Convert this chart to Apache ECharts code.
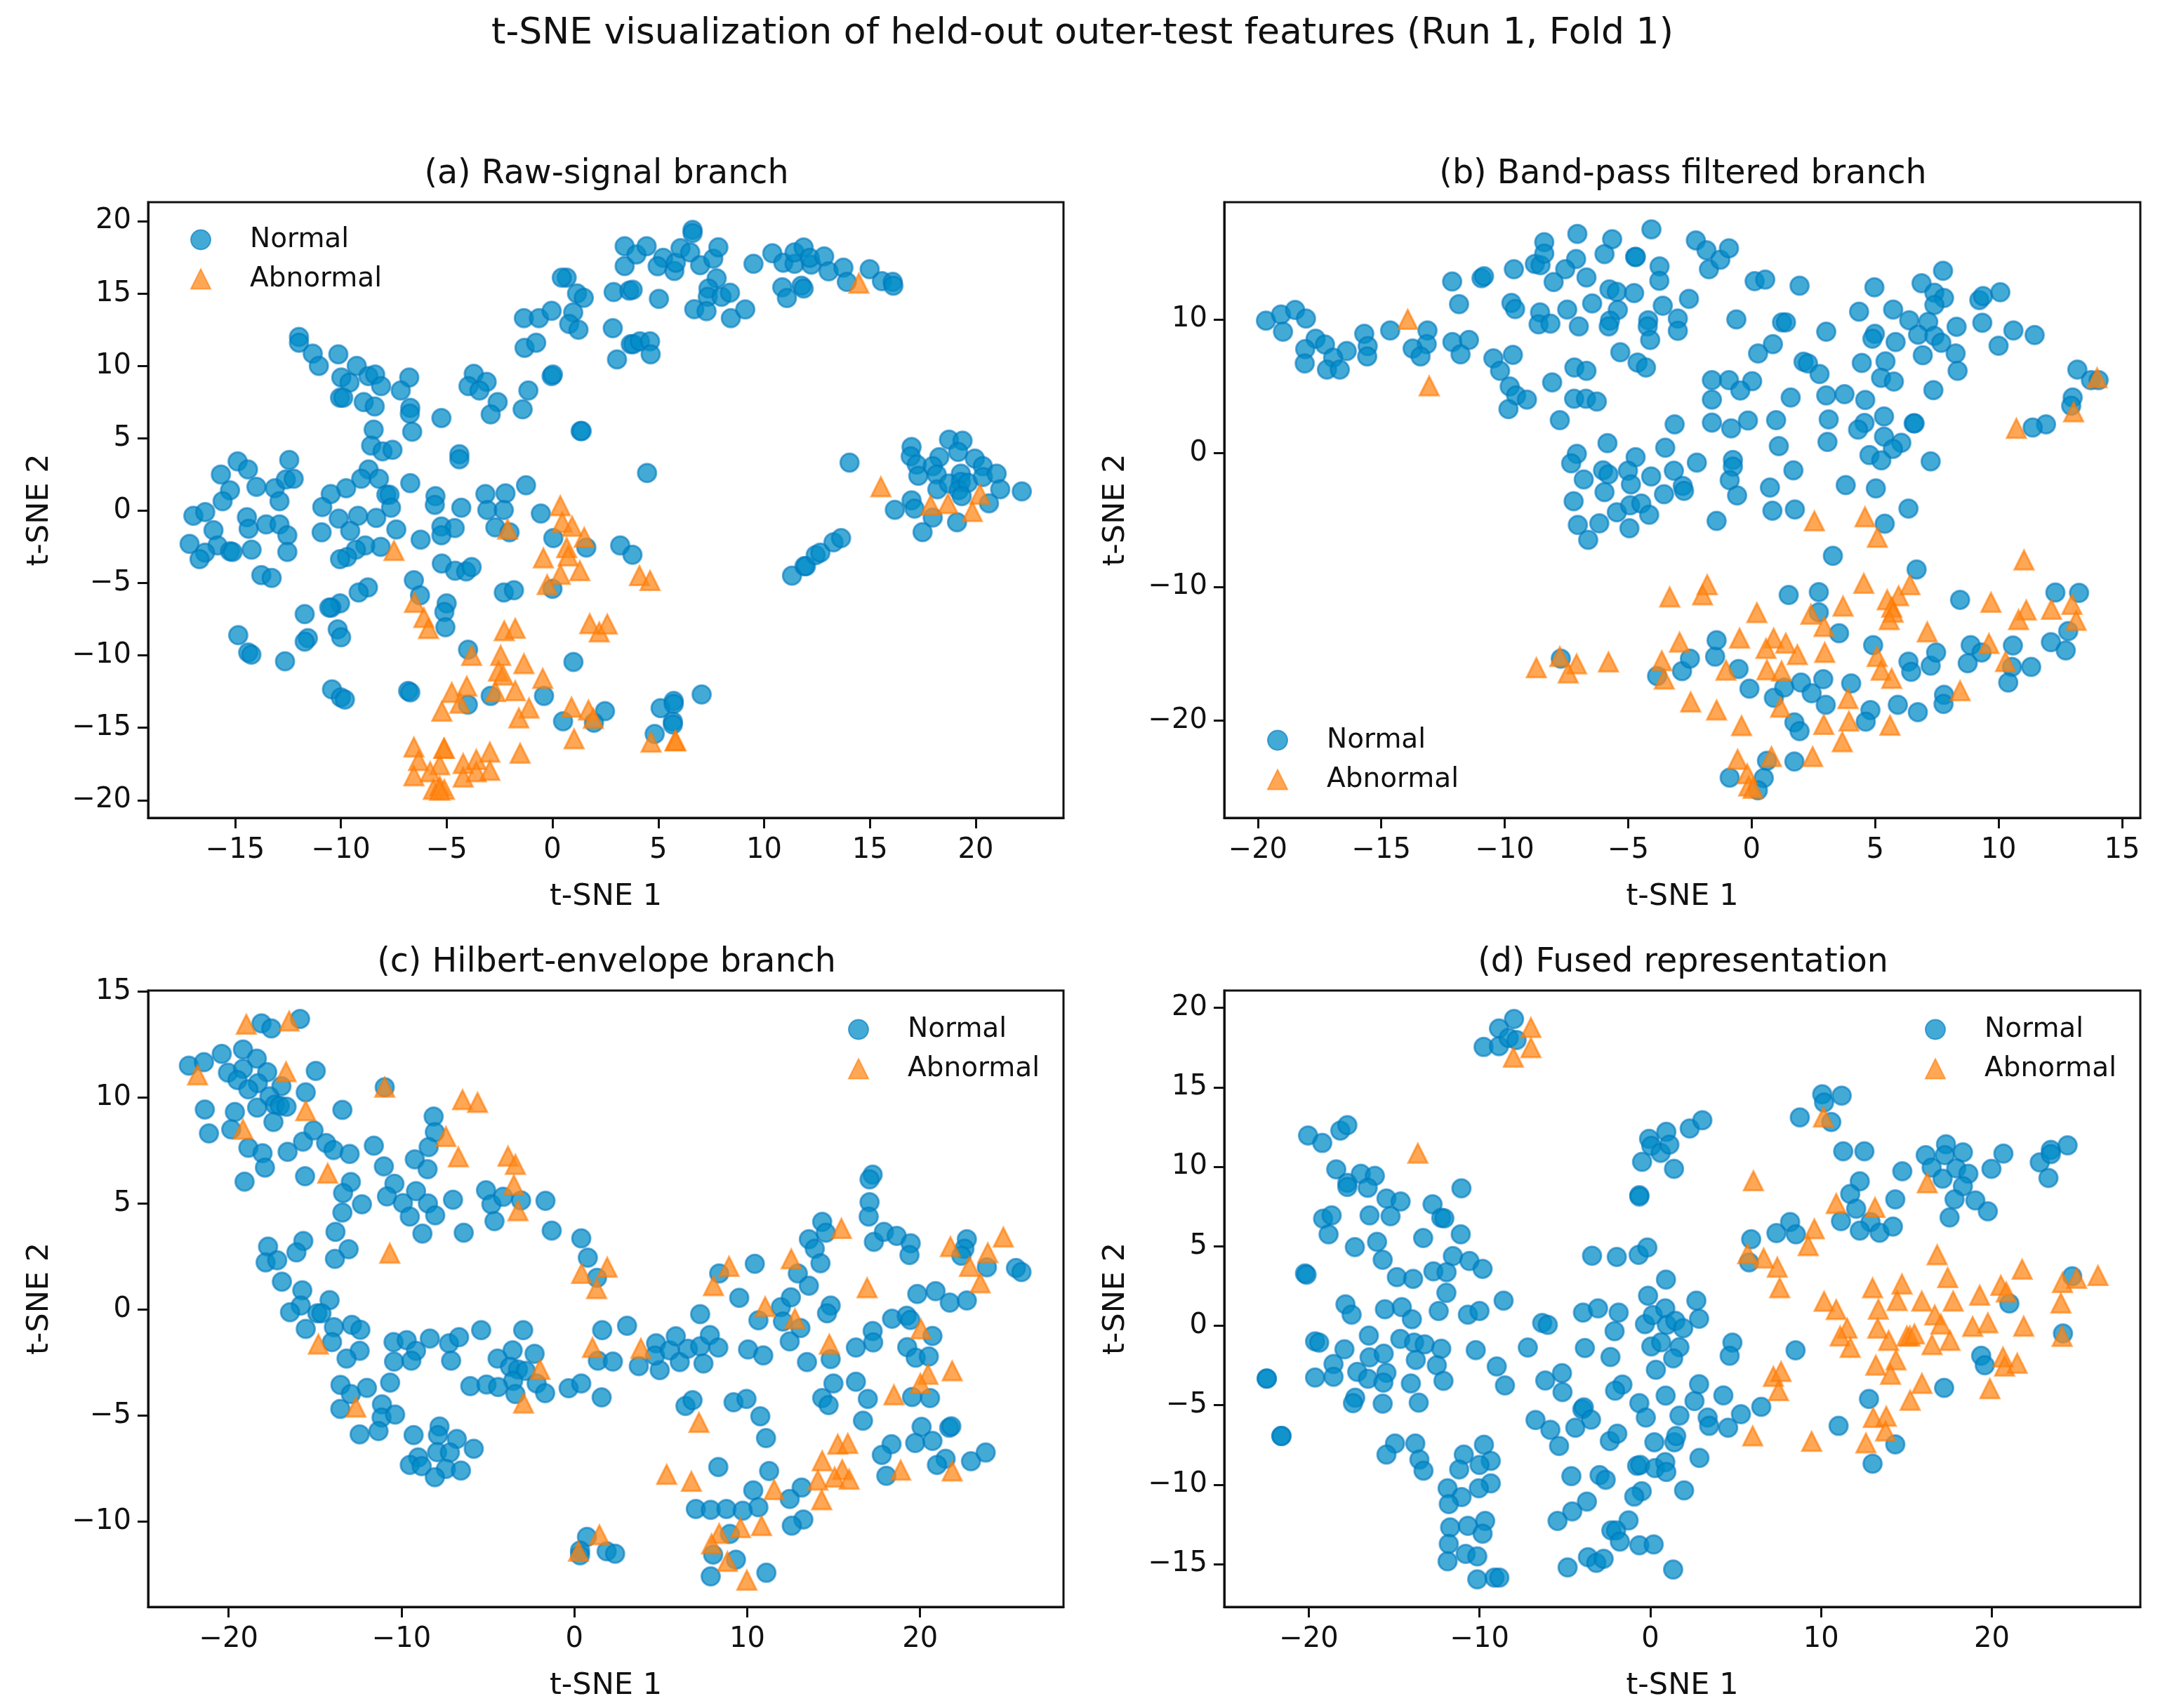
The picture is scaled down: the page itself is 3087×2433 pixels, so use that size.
<!DOCTYPE html>
<html><head><meta charset="utf-8">
<style>html,body{margin:0;padding:0;background:#fff}#c{width:3087px;height:2433px}</style>
<script src="https://cdn.jsdelivr.net/npm/echarts@6/dist/echarts.min.js"></script>
</head><body><div id="c"></div>
<script>
const normalA=[[3.41,18.27],[3.41,16.9],[0.67,16.1],[0.44,16.1],[1.16,15.0],[1.48,14.7],[-1.35,13.3],[-0.64,13.3],[-0.04,13.8],[0.98,13.7],[0.79,12.9],[1.23,12.5],[2.89,15.1],[3.63,15.2],[2.85,12.6],[3.7,11.5],[3.05,10.45],[-1.32,11.25],[-0.77,11.6],[-0.04,9.3],[0.02,9.4],[-1.14,8.3],[-1.41,7.0],[1.33,5.5],[1.38,5.5],[-11.98,12.0],[-11.98,11.6],[-11.33,10.85],[-11.04,10.0],[-10.12,10.8],[-9.98,9.2],[-9.59,8.85],[-9.25,10.0],[-8.7,9.3],[-8.38,9.4],[-8.1,8.6],[-10.04,7.8],[-9.89,7.8],[-8.92,7.5],[-8.4,7.2],[-6.77,9.2],[-7.17,8.3],[-6.72,7.1],[-6.74,6.7],[-6.63,5.45],[-5.25,6.4],[-3.72,9.45],[-3.11,8.9],[-3.97,8.6],[-3.45,8.3],[-2.59,7.5],[-2.92,6.65],[-8.45,5.6],[-8.57,4.5],[-8.03,4.1],[-7.56,4.2],[-4.4,3.9],[-4.4,3.55],[-14.88,3.4],[-14.39,2.85],[-15.67,2.5],[-12.44,3.5],[-15.24,1.4],[-15.59,0.65],[-13.99,1.65],[-13.12,1.55],[-12.9,0.65],[-12.6,2.15],[-12.23,2.2],[-8.69,2.85],[-9.04,2.2],[-8.2,2.2],[-9.75,1.55],[-10.48,1.15],[-10.88,0.25],[-7.85,1.1],[-7.7,1.1],[-7.63,0.2],[-6.72,1.9],[-5.53,1.0],[-5.56,0.4],[-4.31,0.2],[-3.17,1.15],[-2.22,1.2],[-1.25,1.75],[-3.08,0.05],[-2.3,0.05],[-0.55,-0.2],[-2.7,-1.15],[-2.03,-1.5],[0.04,-1.9],[1.6,-2.55],[3.2,-2.4],[3.78,-3.05],[-16.97,-0.35],[-16.41,-0.1],[-16.02,-1.35],[-17.15,-2.3],[-15.83,-2.4],[-16.42,-2.9],[-16.68,-3.35],[-15.24,-2.8],[-15.12,-2.85],[-14.44,-0.45],[-14.36,-1.25],[-13.53,-0.95],[-12.9,-0.95],[-12.53,-1.7],[-14.22,-2.7],[-12.53,-2.85],[-13.76,-4.45],[-13.27,-4.65],[-10.1,-0.55],[-9.19,-0.35],[-8.33,-0.5],[-10.91,-1.5],[-9.56,-1.4],[-7.38,-1.3],[-6.23,-2.0],[-5.25,-1.1],[-4.62,-1.2],[-5.25,-1.7],[-8.12,-2.5],[-8.85,-2.4],[-9.29,-2.7],[-9.71,-3.2],[-10.04,-3.35],[-5.23,-3.65],[-4.6,-4.15],[-4.08,-4.2],[-3.82,-3.9],[-6.55,-4.8],[-6.26,-5.85],[-2.3,-5.65],[-1.82,-5.5],[0,-5.4],[-8.72,-5.3],[-9.16,-5.65],[-10.04,-6.4],[-10.45,-6.7],[-10.55,-6.7],[-11.71,-7.15],[-5.0,-6.4],[-5.11,-7.0],[-5.06,-8.05],[-10.15,-8.2],[-9.99,-8.75],[-14.85,-8.6],[-11.56,-8.8],[-11.71,-9.05],[-14.38,-9.8],[-14.23,-9.95],[-12.64,-10.4],[-3.99,-9.6],[0.99,-10.45],[-10.42,-12.35],[-10.0,-12.9],[-9.81,-13.05],[-6.82,-12.45],[-6.72,-12.55],[-4.0,-13.4],[-2.92,-12.8],[-0.4,-12.8],[2.48,-13.85],[0.5,-14.55],[1.96,-14.65],[3.97,17.7],[4.45,18.27],[5.23,17.47],[4.97,16.88],[5.76,16.56],[5.83,17.13],[6.05,18.13],[6.51,17.84],[6.62,19.4],[6.62,19.18],[6.98,16.96],[7.6,17.41],[7.84,18.2],[9.5,17.05],[10.39,17.78],[10.91,17.13],[11.44,17.05],[11.44,17.84],[11.87,18.18],[12.23,17.0],[12.16,17.47],[12.84,17.56],[13.05,16.53],[13.75,16.79],[13.91,15.8],[14.99,16.68],[15.57,15.85],[16.08,15.8],[16.11,15.54],[3.79,15.26],[5.03,14.63],[7.76,16.05],[7.37,15.34],[7.34,14.77],[7.99,14.77],[8.39,15.06],[6.7,13.92],[7.28,13.78],[8.43,13.3],[9.11,13.9],[10.86,15.43],[11.77,15.54],[11.87,15.34],[11.08,14.69],[3.82,11.5],[4.13,11.7],[4.61,11.7],[4.64,10.8],[4.47,2.6],[14.04,3.32],[16.97,4.4],[16.93,3.75],[17.22,3.18],[17.29,2.41],[18.74,4.91],[19.38,4.83],[19.17,4.06],[18.28,3.69],[17.97,3.07],[18.16,2.5],[18.19,1.48],[18.74,1.88],[19.3,2.56],[19.3,1.99],[19.2,1.42],[19.63,1.93],[19.34,1.0],[19.96,3.6],[20.34,3.07],[20.34,2.33],[20.99,2.56],[21.16,1.48],[20.63,0.51],[22.18,1.33],[16.97,0.71],[17.11,0.14],[16.18,0.06],[17.97,-0.48],[19.12,-0.8],[17.49,-1.48],[11.32,-4.49],[11.91,-3.84],[11.98,-3.84],[12.44,-3.07],[12.66,-2.9],[13.28,-2.19],[13.64,-1.9],[7.05,-12.7],[5.11,-13.64],[5.73,-13.15],[5.73,-13.35],[5.69,-14.57],[5.69,-14.77],[4.83,-15.43]];
const abnormalA=[[-7.49,-2.76],[-2.12,-1.28],[0.37,0.34],[0.46,-0.8],[0.93,-1.08],[1.5,-1.85],[0.67,-2.56],[-0.43,-3.27],[0.74,-3.13],[0.37,-4.4],[1.29,-4.15],[-0.25,-5.11],[-6.52,-6.34],[-6.08,-7.39],[-5.86,-8.15],[-2.28,-8.3],[-1.76,-8.13],[1.76,-7.81],[2.21,-8.38],[2.59,-7.84],[-3.82,-10.0],[-2.45,-10.0],[-1.35,-10.57],[-2.55,-11.08],[-2.33,-11.36],[-0.46,-11.59],[-2.7,-12.5],[-1.76,-12.44],[-4.05,-12.13],[-4.76,-12.56],[-4.37,-13.3],[-5.23,-13.86],[-1.11,-13.64],[-1.59,-14.32],[0.9,-13.58],[1.7,-13.78],[1.93,-14.35],[1.02,-15.77],[-1.53,-16.76],[-6.55,-16.34],[-6.33,-17.27],[-5.11,-16.42],[-5.14,-16.42],[-5.33,-17.56],[-5.78,-18.04],[-6.55,-18.32],[-4.22,-17.47],[-3.6,-17.19],[-2.96,-16.68],[-4.22,-18.41],[-3.6,-18.04],[-2.96,-17.95],[-5.63,-19.26],[-5.33,-19.03],[-5.11,-19.26],[-5.33,-19.32],[4.11,-4.49],[4.61,-4.83],[14.48,15.71],[15.52,1.65],[17.87,0.37],[18.69,0.48],[20.2,1.14],[19.84,-0.06],[4.66,-16.0],[5.79,-15.9],[5.83,-15.9]];
const normalB=[[-19.67,9.91],[-19.06,10.37],[-18.49,10.71],[-18.05,10.06],[-18.98,9.08],[-17.66,8.55],[-17.28,8.12],[-18.08,7.78],[-16.4,7.63],[-16.95,7.14],[-18.1,6.71],[-17.2,6.25],[-16.68,6.25],[-15.69,8.92],[-15.55,8.0],[-15.57,7.23],[-14.64,9.17],[-13.13,9.17],[-13.16,8.15],[-13.73,7.82],[-13.41,7.23],[-12.12,8.31],[-11.45,8.46],[-11.79,7.38],[-12.13,12.83],[-11.85,11.14],[-10.94,13.08],[-10.84,13.23],[-9.63,13.75],[-8.78,14.15],[-8.55,14.06],[-8.4,15.78],[-8.4,14.92],[-7.06,16.4],[-7.11,14.52],[-7.55,13.75],[-8.02,12.8],[-6.69,13.14],[-5.65,16.0],[-5.96,14.89],[-4.72,14.68],[-4.69,14.68],[-4.06,16.74],[-3.73,13.97],[-3.74,12.89],[-5.76,12.25],[-5.46,12.06],[-4.76,11.97],[-5.42,10.71],[-6.46,11.2],[-7.47,10.74],[-9.73,11.23],[-9.58,10.77],[-8.57,10.52],[-8.63,9.63],[-8.15,9.69],[-7.0,9.48],[-5.74,9.91],[-5.79,9.48],[-3.6,11.02],[-4.19,9.94],[-4.21,9.48],[-4.11,8.46],[-2.99,10.06],[-2.99,9.14],[-2.54,11.54],[-2.26,15.91],[-1.83,15.17],[-1.73,13.75],[-10.46,7.08],[-9.67,7.35],[-10.19,6.15],[-9.8,4.98],[-9.54,4.31],[-9.1,4.0],[-9.85,3.29],[-8.08,5.29],[-7.18,6.4],[-6.69,6.15],[-7.19,4.06],[-6.71,4.06],[-6.27,3.85],[-7.77,2.46],[-5.32,7.54],[-4.62,6.77],[-4.28,6.4],[-1.61,5.45],[-1.61,4.0],[-1.61,2.28],[-3.12,2.15],[-5.84,0.74],[-7.08,-0.06],[-7.31,-0.77],[-6.8,-1.97],[-6.02,-1.29],[-5.8,-1.6],[-5.96,-2.92],[-7.21,-3.6],[-7.04,-5.38],[-6.17,-5.26],[-6.62,-6.49],[-5.46,-4.43],[-4.7,-0.31],[-5.01,-1.32],[-4.89,-2.34],[-4.92,-3.91],[-4.47,-3.78],[-4.15,-4.62],[-4.95,-5.63],[-4.07,-1.75],[-3.5,0.4],[-3.15,-1.32],[-3.55,-3.08],[-2.79,-2.46],[-2.74,-2.83],[-2.22,-0.71],[-1.42,-5.08],[-7.73,-15.38],[-3.83,-16.68],[-2.82,-16.31],[-2.5,-15.38],[-1.48,-15.23],[-1.42,-14.0],[-1.27,14.46],[-0.92,15.32],[0.12,12.86],[0.55,12.98],[1.94,12.52],[-0.62,10.0],[1.23,9.78],[1.39,9.78],[0.86,8.15],[0.26,7.45],[3.02,9.08],[4.35,10.58],[4.97,12.4],[5.73,10.74],[6.38,9.94],[6.88,12.71],[7.75,13.63],[7.4,12.0],[7.79,11.6],[7.4,11.08],[7.15,9.82],[6.74,8.86],[8.3,9.45],[7.4,8.77],[7.68,8.25],[8.26,7.45],[8.34,6.15],[6.93,7.32],[5.83,8.31],[4.99,8.92],[4.89,8.55],[9.22,11.45],[9.37,11.75],[10.07,12.03],[9.34,9.75],[10.6,9.17],[10.0,8.03],[11.46,8.83],[13.19,6.25],[13.74,5.45],[14.05,5.45],[13.0,4.15],[12.94,3.54],[11.92,2.15],[11.38,1.91],[2.1,6.83],[2.28,6.71],[2.75,5.91],[4.46,6.74],[5.42,6.86],[5.24,5.63],[5.76,5.35],[7.36,4.71],[-0.92,5.45],[0.02,5.38],[-0.46,4.68],[1.58,4.15],[3.02,4.31],[3.76,4.4],[4.6,3.97],[-0.83,1.85],[-0.15,2.43],[0.99,2.46],[3.12,2.52],[4.57,2.25],[4.31,1.75],[5.36,2.74],[6.56,2.22],[6.6,2.22],[5.36,1.23],[6.06,0.77],[5.72,0.31],[4.77,-0.15],[5.25,-0.55],[1.1,0.52],[3.07,0.83],[7.25,-0.62],[-0.76,-0.52],[-0.76,-1.02],[-0.89,-2.03],[-0.59,-3.17],[1.69,-1.29],[0.74,-2.58],[0.84,-4.31],[1.75,-4.22],[3.81,-2.4],[5.03,-2.65],[6.35,-4.15],[5.39,-5.29],[3.29,-7.69],[6.68,-8.71],[1.5,-10.62],[2.72,-10.4],[8.44,-10.98],[12.3,-10.43],[13.26,-10.46],[2.72,-11.91],[3.54,-13.48],[-0.53,-16.15],[-0.09,-17.63],[0.9,-18.31],[1.32,-17.54],[2.0,-17.17],[2.43,-17.97],[2.9,-16.92],[3.0,-18.83],[4.03,-17.23],[1.73,-20.15],[1.94,-20.8],[4.81,-19.23],[4.62,-20.09],[5.92,-18.83],[6.73,-19.38],[7.79,-18.09],[7.77,-18.77],[4.92,-14.37],[6.35,-15.6],[6.46,-16.37],[7.25,-15.91],[7.47,-14.92],[8.87,-14.37],[9.31,-14.92],[8.75,-15.72],[10.58,-14.4],[10.54,-16.0],[10.39,-17.17],[11.32,-16.0],[12.12,-14.15],[12.72,-14.77],[12.82,-13.32],[0.62,-23.02],[1.73,-23.08],[-0.89,-24.28],[0.49,-24.31],[0.25,-25.23]];
const abnormalB=[[-13.93,10.0],[-13.06,5.02],[-3.32,-10.77],[-1.8,-9.85],[-1.99,-10.62],[-2.92,-14.15],[-3.64,-15.54],[-3.54,-16.92],[-2.47,-18.62],[-8.72,-16.06],[-7.77,-15.23],[-7.09,-15.78],[-7.43,-16.46],[-5.8,-15.63],[13.99,5.63],[13.04,3.08],[10.72,1.85],[2.54,-5.08],[4.59,-4.77],[5.09,-6.31],[11.03,-8.0],[4.54,-9.75],[6.41,-9.85],[5.95,-10.68],[5.49,-10.98],[0.21,-11.94],[3.7,-11.45],[2.4,-12.06],[5.67,-11.54],[5.73,-11.91],[5.57,-12.46],[2.93,-12.98],[9.69,-11.17],[12.14,-11.69],[12.97,-11.32],[11.12,-11.75],[10.81,-12.46],[13.14,-12.52],[7.11,-13.38],[-0.49,-13.85],[0.89,-13.85],[1.38,-14.22],[0.58,-14.62],[1.85,-15.08],[2.96,-14.92],[5.08,-15.23],[9.61,-14.25],[10.28,-15.6],[-1.04,-16.25],[0.62,-16.22],[1.21,-16.31],[5.24,-16.25],[5.67,-16.86],[8.44,-17.78],[-1.42,-19.23],[3.9,-18.37],[1.17,-19.02],[-0.41,-20.4],[2.92,-20.31],[3.94,-20.06],[5.6,-20.37],[3.67,-21.6],[-0.57,-22.92],[0.8,-22.71],[2.47,-22.71],[-0.18,-24.0],[-0.12,-24.92],[0.06,-25.08]];
const normalC=[[-15.87,13.71],[-18.1,13.5],[-17.53,13.26],[-22.3,11.51],[-21.43,11.67],[-20.4,12.06],[-19.17,12.27],[-18.37,11.84],[-20.04,11.18],[-19.17,11.36],[-19.49,10.83],[-17.77,11.2],[-18.31,10.68],[-18.86,10.39],[-16.95,10.54],[-14.96,11.26],[-15.54,10.25],[-17.64,10.06],[-17.32,9.67],[-17.04,9.61],[-16.65,9.57],[-18.35,9.53],[-17.41,8.85],[-21.38,9.44],[-19.64,9.32],[-19.85,8.5],[-21.14,8.31],[-13.42,9.42],[-10.97,10.49],[-18.86,7.63],[-18.04,7.38],[-17.9,6.7],[-19.08,6.04],[-16.59,7.44],[-15.7,7.92],[-15.09,8.45],[-14.36,7.86],[-13.93,7.53],[-13.0,7.34],[-11.6,7.73],[-15.58,6.29],[-12.93,6.02],[-13.38,5.5],[-12.29,4.97],[-13.42,4.58],[-13.82,3.67],[-13.06,2.85],[-13.85,2.39],[-11.02,6.76],[-10.41,5.94],[-10.84,5.34],[-9.92,5.03],[-9.16,5.59],[-8.47,5.01],[-9.52,4.39],[-8.05,4.45],[-8.79,3.59],[-7.02,5.18],[-6.4,3.63],[-8.14,9.11],[-8.07,8.37],[-8.43,7.67],[-9.23,7.09],[-8.49,6.62],[-5.11,5.63],[-4.8,4.97],[-4.12,5.32],[-3.08,5.15],[-4.62,4.17],[-1.67,5.13],[-1.31,3.73],[0.4,3.36],[0.78,2.45],[1.31,1.5],[-17.72,2.97],[-15.68,3.24],[-16.08,2.7],[-17.86,2.23],[-17.19,2.33],[-16.92,1.32],[-15.74,0.91],[-15.83,0.19],[-16.45,-0.12],[-14.16,0.45],[-14.87,-0.17],[-14.63,-0.17],[-15.54,-0.91],[-13.91,-0.83],[-14.02,-1.53],[-12.87,-0.72],[-12.38,-0.95],[-12.42,-1.94],[-13.18,-2.31],[-13.53,-3.55],[-12.93,-3.98],[-12.0,-3.69],[-13.54,-4.68],[-11.13,-4.47],[-11.15,-5.09],[-10.37,-4.95],[-11.33,-5.73],[-12.42,-5.88],[-10.66,-3.44],[-10.46,-1.53],[-9.7,-1.44],[-9.16,-1.94],[-10.43,-2.45],[-9.43,-2.41],[-8.36,-1.36],[-7.25,-1.59],[-6.67,-1.3],[-7.13,-2.41],[-5.39,-0.97],[-2.96,-0.97],[-3.57,-1.92],[-4.44,-2.31],[-2.3,-2.08],[-3.72,-2.7],[-3.26,-2.82],[-2.81,-2.89],[-3.54,-3.36],[-6.02,-3.61],[-5.08,-3.53],[-4.41,-3.65],[-3.41,-3.98],[-2.18,-3.48],[-1.69,-3.94],[-0.33,-3.71],[0.4,-3.48],[1.58,-4.14],[1.61,-0.97],[3.05,-0.76],[1.36,-2.41],[2.23,-2.45],[-9.3,-5.92],[-7.8,-5.51],[-7.89,-5.92],[-6.8,-6.1],[-5.82,-6.56],[-7.94,-6.72],[-7.2,-6.74],[-9.03,-6.97],[-9.52,-7.32],[-8.83,-7.38],[-7.43,-7.51],[-6.56,-7.59],[-8.07,-7.9],[0.73,-10.72],[0.33,-11.36],[0.33,-11.59],[1.87,-11.4],[2.36,-11.51],[3.73,-2.66],[4.94,-2.85],[4.73,-1.59],[4.67,-2.17],[5.52,-1.92],[5.87,-1.26],[6.1,-2.47],[6.57,-1.84],[7.28,-1.73],[7.47,-2.54],[7.84,-1.2],[8.33,-1.79],[7.28,-0.21],[8.38,1.71],[10.44,2.16],[9.54,0.56],[10.05,-1.88],[10.93,-2.16],[10.65,-0.5],[11.95,0.12],[12.53,0.58],[12.07,-0.56],[13.08,-0.87],[12.46,-1.5],[13.46,-2.47],[12.93,1.71],[13.57,1.13],[13.57,3.32],[13.91,2.87],[14.24,2.19],[14.34,4.14],[14.55,3.63],[14.83,0.19],[14.62,-0.17],[17.33,3.2],[17.91,3.67],[18.65,3.48],[19.46,3.13],[19.39,2.58],[17.26,6.37],[17.08,6.14],[17.08,5.07],[17.03,4.39],[19.84,0.74],[20.9,0.87],[21.72,0.33],[22.71,0.43],[22.71,3.32],[22.57,2.87],[22.39,2.54],[23.87,2.0],[25.55,1.96],[25.87,1.77],[17.26,-1.01],[17.29,-1.55],[16.29,-1.79],[14.83,-2.33],[18.38,-0.43],[19.23,-0.29],[19.44,-0.49],[20.72,-1.24],[19.26,-1.77],[19.75,-2.27],[20.51,-2.21],[14.99,-3.48],[16.29,-3.4],[16.98,-4.21],[14.34,-4.17],[14.71,-4.5],[16.7,-5.24],[19.54,-4.12],[20.58,-4.17],[6.43,-4.54],[6.84,-4.27],[9.21,-4.37],[9.96,-4.21],[10.76,-5.03],[11.09,-6.06],[20.09,-5.53],[21.69,-5.57],[21.81,-5.5],[19.72,-6.29],[20.72,-6.19],[18.35,-6.35],[17.79,-6.85],[21.48,-7.03],[20.98,-7.32],[22.95,-7.15],[23.8,-6.74],[18.05,-7.84],[8.33,-7.42],[11.27,-7.61],[13.15,-8.39],[12.46,-8.93],[10.35,-8.52],[10.65,-9.32],[7.03,-9.4],[7.89,-9.44],[8.8,-9.4],[9.74,-9.48],[13.25,-9.9],[12.58,-10.19],[9.0,-10.58],[8.03,-11.55],[9.35,-11.79],[7.89,-12.58],[11.11,-12.41]];
const abnormalC=[[-18.98,13.46],[-16.5,13.61],[-21.8,11.07],[-16.68,11.22],[-10.97,10.49],[-15.54,9.38],[-19.17,8.5],[-14.27,6.43],[-6.47,9.9],[-5.6,9.77],[-7.43,8.16],[-6.71,7.2],[-3.84,7.24],[-3.41,6.85],[-3.5,5.88],[-3.26,4.66],[-10.68,2.66],[0.42,1.71],[1.9,2.0],[1.29,0.99],[-14.81,-1.63],[-1.99,-2.82],[1.05,-1.79],[-12.64,-4.6],[-2.94,-4.41],[0.24,-11.4],[1.45,-10.62],[3.85,-1.83],[8.95,2.04],[8.05,1.13],[15.45,3.83],[12.55,2.39],[11.04,0.14],[12.76,-0.43],[14.75,-1.63],[16.94,1.03],[21.76,2.97],[23.92,2.68],[24.82,3.42],[22.86,2.04],[23.48,1.26],[20.05,-0.91],[20.46,-3.05],[20.02,-3.48],[21.86,-2.89],[18.49,-4.02],[7.21,-5.32],[15.24,-6.35],[15.82,-6.31],[14.34,-7.13],[15.5,-7.55],[15.06,-7.9],[15.9,-8.0],[14.09,-8.04],[18.88,-7.57],[21.86,-7.61],[5.34,-7.77],[6.77,-8.1],[11.56,-8.49],[14.31,-8.97],[8.38,-10.56],[9.61,-10.29],[10.83,-10.19],[7.94,-11.05],[8.86,-11.88],[9.98,-12.76]];
const normalD=[[-7.98,19.3],[-8.86,18.7],[-9.76,17.54],[-8.86,17.59],[-8.29,18.11],[-7.83,17.98],[-20.04,11.97],[-19.21,11.5],[-18.15,12.28],[-17.74,12.62],[-18.39,9.84],[-17.74,8.99],[-17.74,8.73],[-16.95,9.56],[-16.13,9.43],[-16.55,8.68],[-15.45,8.0],[-14.62,7.82],[-15.21,6.89],[-16.44,6.94],[-19.16,6.74],[-18.66,6.94],[-18.84,5.75],[-17.3,4.95],[-16.0,5.28],[-15.67,4.15],[-14.84,3.06],[-13.89,2.95],[-13.3,5.52],[-12.75,7.64],[-12.24,6.79],[-12.06,6.76],[-11.06,8.65],[-11.1,5.75],[-11.56,4.38],[-10.59,4.07],[-9.82,3.58],[-12.7,3.42],[-11.93,3.37],[-11.94,2.07],[-20.22,3.29],[-20.13,3.21],[-17.85,1.35],[-17.49,0.7],[-15.54,1.04],[-14.55,1.17],[-13.96,0.41],[-12.39,0.93],[-10.68,0.7],[-10.0,0.93],[-8.59,1.58],[-19.63,-0.98],[-19.39,-1.06],[-16.48,-0.62],[-17.91,-1.48],[-14.64,-0.83],[-13.83,-1.06],[-13.21,-1.17],[-12.24,-1.45],[-10.22,-1.53],[-16.44,-1.99],[-15.61,-1.76],[-13.73,-2.15],[-12.5,-2.49],[-18.55,-2.41],[-19.63,-3.26],[-18.55,-3.21],[-17.16,-2.9],[-16.53,-3.34],[-15.45,-2.96],[-15.63,-3.58],[-14.02,-3.63],[-12.11,-3.47],[-8.99,-2.56],[-8.51,-3.76],[-22.46,-3.32],[-22.46,-3.32],[-17.28,-4.53],[-17.41,-4.87],[-15.67,-4.9],[-13.56,-4.84],[-21.6,-6.94],[-21.6,-6.94],[-14.95,-7.41],[-15.45,-8.11],[-13.76,-7.41],[-13.52,-8.42],[-13.28,-9.12],[-9.74,-7.49],[-10.92,-8.11],[-11.19,-9.04],[-9.34,-8.5],[-10.0,-8.76],[-9.34,-9.92],[-10.04,-10.23],[-11.87,-10.23],[-11.05,-10.78],[-11.8,-11.22],[-11.72,-12.69],[-10.68,-12.59],[-9.67,-12.28],[-9.82,-13.08],[-11.8,-13.73],[-11.87,-14.82],[-10.81,-14.35],[-10.13,-14.51],[-10.13,-15.96],[-9.12,-15.85],[-8.84,-15.85],[-6.33,0.18],[-6.0,0.05],[-7.17,-1.37],[-5.17,-2.98],[-6.15,-3.45],[-5.14,-4.17],[-6.72,-5.93],[-5.85,-6.55],[-5.34,-7.56],[-3.98,-5.26],[-3.89,-5.13],[-3.47,-5.91],[-4.39,-6.42],[-4.62,-9.46],[-3.71,-11.06],[-4.57,-11.68],[-5.43,-12.28],[-4.84,-15.21],[-3.65,-14.56],[-3.16,-14.92],[-2.73,-14.66],[-2.97,-9.4],[-2.61,-9.69],[-3.94,0.83],[-3.06,1.09],[-1.85,0.83],[-2.09,-0.34],[-3.83,-1.4],[-2.33,-1.97],[-3.41,4.4],[-1.96,4.33],[-0.68,4.46],[-0.17,4.92],[0.92,2.9],[-0.13,1.89],[-0.64,8.21],[-0.64,8.13],[-0.48,10.31],[-0.07,11.76],[0.94,12.2],[0.06,11.32],[0.61,10.88],[1.12,11.4],[1.39,9.87],[2.31,12.41],[3.05,12.93],[0.33,-2.77],[-1.63,-3.7],[-2.06,-4.09],[-0.64,-4.87],[-0.26,-5.78],[-2.37,-7.25],[-1.93,-6.79],[0.9,-4.4],[1.71,-5.65],[2.59,-4.74],[2.86,-3.68],[0.24,-7.33],[1.41,-7.33],[1.52,-6.94],[-0.77,-8.81],[-0.59,-8.76],[0.28,-8.96],[0.88,-8.58],[0.94,-9.2],[2.88,-8.32],[1.98,-10.36],[-0.5,-10.41],[-0.94,-10.75],[-1.27,-12.25],[-2.28,-12.88],[-2.0,-12.88],[-1.78,-13.58],[-0.64,-13.81],[0.2,-13.76],[1.34,-15.34],[-0.31,0.1],[0.15,0.67],[0.88,1.09],[0.97,0.05],[1.47,0.31],[1.93,-0.16],[2.7,1.58],[2.86,0.44],[0.06,-1.3],[0.64,-1.04],[1.71,-1.35],[1.34,-2.05],[3.36,-5.78],[3.45,-6.3],[10.07,14.56],[10.18,14.04],[11.21,14.48],[8.76,13.11],[10.6,12.82],[11.3,10.98],[12.54,10.98],[14.76,9.72],[12.27,9.09],[11.71,8.29],[12.06,7.36],[11.17,6.58],[12.9,6.53],[12.27,5.98],[13.43,5.85],[14.21,6.24],[14.35,7.95],[16.13,10.73],[17.32,11.42],[17.25,10.73],[18.31,10.91],[16.48,9.95],[17.12,9.25],[17.92,9.9],[18.63,9.56],[18.31,8.78],[17.82,7.95],[19.04,7.88],[17.53,6.81],[19.77,7.2],[19.98,9.87],[20.68,10.83],[22.81,10.28],[23.46,11.06],[23.46,10.8],[24.44,11.35],[23.32,9.3],[5.91,5.44],[5.79,3.99],[7.39,5.83],[8.19,6.53],[8.53,5.75],[17.21,-3.91],[19.38,-1.89],[19.59,-2.49],[8.51,-1.55],[4.81,-1.06],[4.65,-1.89],[4.28,-4.38],[4.56,-6.42],[5.31,-5.57],[6.5,-5.1],[12.81,-4.61],[11.03,-6.3],[14.35,-7.46],[13.02,-8.68],[21.03,1.4],[24.71,3.11],[24.17,-0.49]];
const abnormalD=[[-6.99,18.76],[-6.99,17.49],[-8.02,16.89],[-13.61,10.85],[10.14,13.13],[6.04,9.12],[16.22,8.99],[10.89,7.69],[13.16,7.44],[9.61,6.09],[9.25,5.03],[5.7,4.53],[6.64,4.25],[7.44,3.68],[7.58,2.38],[16.8,4.46],[17.42,3.03],[21.78,3.55],[24.14,2.72],[24.97,2.98],[26.22,3.16],[13.02,2.38],[14.74,2.62],[10.18,1.53],[10.89,1.01],[13.36,1.04],[14.46,1.58],[15.9,1.55],[17.74,1.55],[19.29,1.92],[20.53,2.54],[20.85,2.12],[24.05,1.42],[11.53,-0.16],[11.12,-0.65],[11.71,-1.37],[13.32,-0.16],[13.96,-0.93],[15.03,-0.65],[15.2,-0.65],[15.47,-0.52],[16.66,0.67],[17.02,0.1],[16.5,-1.19],[17.55,-0.93],[18.88,-0.05],[19.77,0.18],[21.87,-0.03],[24.12,-0.67],[20.66,-1.97],[20.75,-2.54],[21.49,-2.36],[14.39,-2.15],[13.21,-2.49],[14.07,-3.06],[15.91,-3.63],[15.22,-4.69],[19.89,-3.96],[7.21,-3.19],[7.66,-2.88],[7.51,-4.09],[6.0,-6.94],[9.45,-7.28],[13.06,-5.78],[13.82,-5.7],[13.78,-6.63],[12.63,-7.38]];

const xTicksA=[-15,-10,-5,0,5,10,15,20], yTicksA=[-20,-15,-10,-5,0,5,10,15,20];
const xTicksB=[-20,-15,-10,-5,0,5,10,15], yTicksB=[-20,-10,0,10];
const xTicksC=[-20,-10,0,10,20], yTicksC=[-10,-5,0,5,10,15];
const xTicksD=[-20,-10,0,10,20], yTicksD=[-15,-10,-5,0,5,10,15,20];
const panelTitles=['(a) Raw-signal branch','(b) Band-pass filtered branch','(c) Hilbert-envelope branch','(d) Fused representation'];
const FONT='DejaVu Sans';
const INK='#111';
const panels=[
 {n:normalA,a:abnormalA,xt:xTicksA,yt:yTicksA,x:[-19.11,24.15],y:[-21.22,21.31],g:[211,288,1304,877],leg:[271,322]},
 {n:normalB,a:abnormalB,xt:xTicksB,yt:yTicksB,x:[-21.36,15.74],y:[-27.29,18.77],g:[1744,288,1305,877],leg:[1805,1035]},
 {n:normalC,a:abnormalC,xt:xTicksC,yt:yTicksC,x:[-24.66,28.3],y:[-14.02,15.05],g:[211,1411,1304,878],leg:[1208,1447]},
 {n:normalD,a:abnormalD,xt:xTicksD,yt:yTicksD,x:[-24.95,28.7],y:[-17.69,21.09],g:[1744,1411,1305,878],leg:[2742,1447]}
];
const fmt=v=>String(v).replace('-','\u2212');
const axisCommon=(ticks,ext,name,gap,lblPad,lblMargin)=>({type:'value',min:ext[0],max:ext[1],splitLine:{show:false},
  axisLine:{show:true,onZero:false,lineStyle:{color:INK,width:3}},
  axisTick:{show:true,length:15,lineStyle:{color:INK,width:3},customValues:ticks},
  axisLabel:{color:INK,fontFamily:FONT,fontSize:40,margin:lblMargin,padding:lblPad,formatter:fmt,customValues:ticks},
  name:name,nameLocation:'middle',nameGap:gap,nameTextStyle:{color:INK,fontFamily:FONT,fontSize:43}});
const option={backgroundColor:'#fff',animation:false,
 title:[{text:'t-SNE visualization of held-out outer-test features (Run 1, Fold 1)',left:1537,top:17,textAlign:'center',textStyle:{color:INK,fontFamily:FONT,fontSize:52,fontWeight:'normal'}}]
   .concat(panels.map((p,i)=>({text:panelTitles[i],left:p.g[0]+p.g[2]/2-4,top:p.g[1]-68,textAlign:'center',textStyle:{color:INK,fontFamily:FONT,fontSize:47.5,fontWeight:'normal'}}))),
 grid:panels.map(p=>({left:p.g[0],top:p.g[1],width:p.g[2],height:p.g[3],show:true,borderWidth:3,borderColor:INK,backgroundColor:'#fff'})),
 xAxis:panels.map((p,i)=>Object.assign(axisCommon(p.xt,p.x,'t-SNE 1',91,0,27),{gridIndex:i})),
 yAxis:panels.map((p,i)=>Object.assign(axisCommon(p.yt,p.y,'t-SNE 2',133,[12,0,0,0],24),{gridIndex:i})),
 legend:panels.map(p=>({left:p.leg[0],top:p.leg[1],orient:'vertical',itemWidth:28,itemHeight:28,itemGap:17,padding:0,selectedMode:false,
   textStyle:{color:INK,fontFamily:FONT,fontSize:39,padding:[0,0,0,51]},data:[{name:'Normal',icon:'circle'},{name:'Abnormal',icon:'triangle'}]})),
 series:panels.flatMap((p,i)=>[
  {name:'Normal',type:'scatter',xAxisIndex:i,yAxisIndex:i,data:p.n,symbol:'circle',symbolSize:26,silent:true,
   itemStyle:{color:'rgba(0,140,200,0.92)',borderColor:'rgba(0,120,190,0.75)',borderWidth:3}},
  {name:'Abnormal',type:'scatter',xAxisIndex:i,yAxisIndex:i,data:p.a,symbol:'triangle',symbolSize:27,silent:true,
   itemStyle:{color:'rgba(255,135,25,0.92)',borderColor:'rgba(255,120,0,0.75)',borderWidth:3}}
 ])};
echarts.init(document.getElementById('c')).setOption(option);
</script></body></html>
